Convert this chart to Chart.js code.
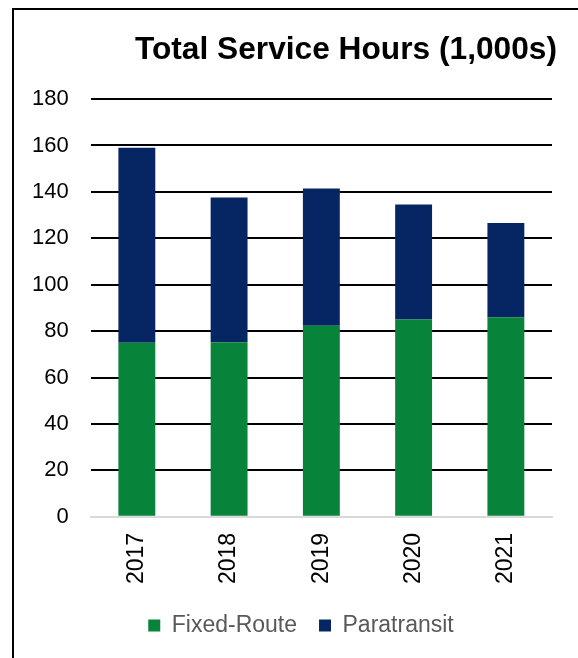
<!DOCTYPE html>
<html>
<head>
<meta charset="utf-8">
<script src="https://cdn.jsdelivr.net/npm/chart.js@4"></script>
<style>
  html, body { margin: 0; padding: 0; background: #fff; }
  #frame {
    position: absolute; left: 12px; top: 8px; width: 580px; height: 660px;
    border-left: 2px solid #000; border-top: 2px solid #000;
  }
  #wrap { position: absolute; left: 14px; top: 10px; width: 564px; height: 648px; }
</style>
</head>
<body>
<div id="frame"></div>
<div id="wrap"><canvas id="hoursChart"></canvas></div>
<script>
// values (thousands of hours)
var years = ['2017', '2018', '2019', '2020', '2021'];
var fixedRoute = [75, 75.2, 82.3, 85, 86];
var paratransit = [84, 62.4, 59.2, 49.6, 40.6];

// nudge title and legend sideways to sit where the original has them
var nudgeBoxes = {
    id: 'nudgeBoxes',
    afterLayout: function(chart) {
        if (chart.titleBlock) { chart.titleBlock.left += 5; chart.titleBlock.right += 5; }
        if (chart.legend) { chart.legend.left += 20; chart.legend.right += 20; }
    }
};

document.addEventListener('DOMContentLoaded', function() {
    var ctx = document.getElementById('hoursChart').getContext('2d');
    var hoursChart = new Chart(ctx, {
        type: 'bar',
        data: {
            labels: years,
            datasets: [{
                label: 'Fixed-Route',
                data: fixedRoute,
                backgroundColor: '#07833a'
            }, {
                label: 'Paratransit',
                data: paratransit,
                backgroundColor: '#062663'
            }]
        },
        options: {
            responsive: true,
            maintainAspectRatio: false,
            animation: false,
            barPercentage: 0.4,
            categoryPercentage: 1,
            layout: {
                padding: { top: 21, left: -4, right: 26, bottom: 11 }
            },
            plugins: {
                title: {
                    display: true,
                    text: 'Total Service Hours (1,000s)',
                    align: 'end',
                    color: '#000',
                    font: { family: 'Liberation Sans, Arial', size: 31.7, weight: 'bold' },
                    padding: { top: 0, bottom: 30 }
                },
                legend: {
                    position: 'bottom',
                    labels: {
                        color: '#595959',
                        boxWidth: 12,
                        boxHeight: 12,
                        padding: 22,
                        font: { family: 'Liberation Sans, Arial', size: 23 }
                    }
                },
                tooltip: { enabled: false }
            },
            scales: {
                x: {
                    stacked: true,
                    grid: { display: false },
                    border: { color: '#d9d9d9', width: 2 },
                    ticks: {
                        color: '#000',
                        minRotation: 90,
                        maxRotation: 90,
                        padding: 8,
                        font: { family: 'Liberation Sans, Arial', size: 23 }
                    }
                },
                y: {
                    stacked: true,
                    min: 0,
                    max: 180,
                    border: { display: false },
                    grid: {
                        color: function(c) { return c.index === 0 ? 'rgba(0,0,0,0)' : '#000'; },
                        lineWidth: 2,
                        drawTicks: false
                    },
                    ticks: {
                        stepSize: 20,
                        color: '#000',
                        padding: 22,
                        font: { family: 'Liberation Sans, Arial', size: 22 }
                    }
                }
            }
        },
        plugins: [nudgeBoxes]
    });
});
</script>
</body>
</html>
